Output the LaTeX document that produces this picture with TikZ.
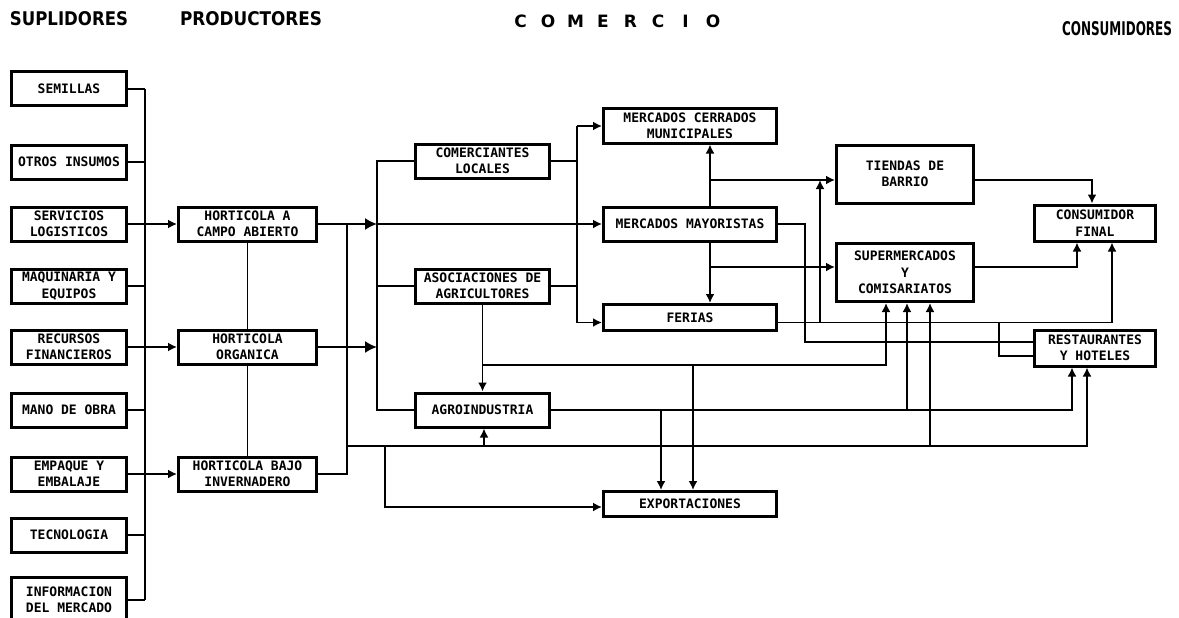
\documentclass[tikz,border=0pt]{standalone}
\usepackage{fontspec}
\usetikzlibrary{arrows.meta}
\newfontfamily\boxfont{DejaVu Sans Mono}
\newfontfamily\headfont{DejaVu Sans}

\begin{document}
\begin{tikzpicture}[x=1pt,y=-1pt,
  box/.style={draw, line width=3pt, inner sep=0pt, align=center,
    font=\boxfont\bfseries\fontsize{13}{16.5}\selectfont},
  supbox/.style={box, minimum width=115pt, minimum height=34pt},
  probox/.style={box, minimum width=138pt, minimum height=34pt},
  combox/.style={box, minimum width=134pt, minimum height=34pt},
  mktbox/.style={box, minimum width=173pt, minimum height=34pt},
  lowbox/.style={box, minimum width=173pt, minimum height=25pt},
  retbox/.style={box, minimum width=137pt, minimum height=58pt},
  conbox/.style={box, minimum width=121pt, minimum height=36pt},
  link/.style={line width=1.8pt},
  arr/.style={link, -{Latex[length=9pt,width=9pt]}},
  bigarr/.style={link, -{Latex[length=12pt,width=12pt]}},
  head/.style={inner sep=0pt, font=\headfont\bfseries}
]
\useasboundingbox (0,0) rectangle (1179,618);

% column headings
\node[head] (hsup) at (69,19) {\resizebox{118pt}{14pt}{SUPLIDORES}};
\node[head] (hpro) at (251,19) {\resizebox{142pt}{14pt}{PRODUCTORES}};
\foreach \ch [count=\i] in {C,O,M,E,R,C,I,O}
  \node[head, font=\headfont\bfseries\fontsize{17}{17}\selectfont] (hc\i) at (493+27.5*\i,21) {\ch};
\node[head] (hcon) at (1117,29) {\resizebox{110pt}{14pt}{CONSUMIDORES}};

% suppliers
\node[supbox] (sem) at (69,89)  {SEMILLAS};
\node[supbox] (otr) at (69,162) {OTROS INSUMOS};
\node[supbox] (ser) at (69,224) {SERVICIOS\\LOGISTICOS};
\node[supbox] (maq) at (69,286) {MAQUINARIA Y\\EQUIPOS};
\node[supbox] (rec) at (69,347) {RECURSOS\\FINANCIEROS};
\node[supbox] (man) at (69,410) {MANO DE OBRA};
\node[supbox] (emp) at (69,474) {EMPAQUE Y\\EMBALAJE};
\node[supbox] (tec) at (69,535) {TECNOLOGIA};
\node[supbox, minimum height=46pt] (inf) at (69,600) {INFORMACION\\DEL MERCADO};

% producers
\node[probox] (hA) at (247.5,224) {HORTICOLA A\\CAMPO ABIERTO};
\node[probox] (hO) at (247.5,347) {HORTICOLA\\ORGANICA};
\node[probox] (hB) at (247.5,474) {HORTICOLA BAJO\\INVERNADERO};

% first trade level
\node[combox] (com) at (482.5,161) {COMERCIANTES\\LOCALES};
\node[combox] (aso) at (482.5,286) {ASOCIACIONES DE\\AGRICULTORES};
\node[combox] (agr) at (482.5,410) {AGROINDUSTRIA};

% markets
\node[mktbox] (mcm) at (690,126) {MERCADOS CERRADOS\\MUNICIPALES};
\node[mktbox] (may) at (690,224) {MERCADOS MAYORISTAS};
\node[lowbox, minimum height=26pt] (fer) at (690,317.5) {FERIAS};
\node[lowbox] (exp) at (690,504) {EXPORTACIONES};

% retail
\node[retbox] (tie) at (905,174) {TIENDAS DE\\BARRIO};
\node[retbox] (sup) at (905,272.5) {SUPERMERCADOS\\Y\\COMISARIATOS};

% consumers
\node[conbox] (con) at (1095,223) {CONSUMIDOR\\FINAL};
\node[conbox] (res) at (1095,348) {RESTAURANTES\\Y HOTELES};

% junction points
\coordinate (sbus) at (145,89);
\coordinate (pbus) at (347,224);
\coordinate (cbus) at (377,0);
\coordinate (mbus) at (577,0);
\coordinate (low)  at (347,446);
\coordinate (m1) at (710,180);
\coordinate (m2) at (710,267);
\coordinate (j1) at (805,342);
\coordinate (ferL) at ([yshift=-5pt]fer.west);
\coordinate (ferR) at ([yshift=-5pt]fer.east);
\coordinate (expL) at ([yshift=-3pt]exp.west);
\coordinate (f1) at (820,322.5);
\coordinate (f2) at (999,322.5);
\coordinate (a1) at (482.5,365);
\coordinate (a2) at (693,365);
\coordinate (g1) at (661,410);
\coordinate (g2) at (907,410);
\coordinate (l1) at (484,446);
\coordinate (l2) at (930,446);
\coordinate (l3) at (385,446);

% suppliers to the bus
\draw[link] (sbus) -- (sbus |- inf.east);
\foreach \n in {sem,otr,maq,man,tec,inf}
  \draw[link] (\n.east) -- (\n.east -| sbus);
\draw[arr] (ser.east) -- (hA.west);
\draw[arr] (rec.east) -- (hO.west);
\draw[arr] (emp.east) -- (hB.west);

% producers
\draw[link] (hA.south) -- (hO.north);
\draw[link] (hO.south) -- (hB.north);
\draw[link] (hB.east) -| (pbus);
\draw[bigarr] (hA.east) -- (hA.east -| cbus);
\draw[arr] (hA.east -| cbus) -- (may.west);
\draw[bigarr] (hO.east) -- (hO.east -| cbus);

% first trade level bus
\draw[link] (com.west) -| (cbus |- agr.west) -- (agr.west);
\draw[link] (aso.west) -- (aso.west -| cbus);
\draw[link] (com.east) -- (com.east -| mbus);
\draw[link] (aso.east) -- (aso.east -| mbus);
\draw[link] (mbus |- mcm.west) -- (mbus |- ferL);
\draw[arr] (mbus |- mcm.west) -- (mcm.west);
\draw[arr] (mbus |- ferL) -- (ferL);

% wholesale markets
\draw[arr] (may.north -| m1) -- (mcm.south -| m1);
\draw[arr] (may.south -| m1) -- (fer.north -| m1);
\draw[arr] (m1) -- (m1 -| tie.west);
\draw[arr] (m2) -- (m2 -| sup.west);
\draw[link] (may.east) -| (j1) -- (j1 -| res.west);

% fairs
\draw[arr] (ferR) -| ([xshift=17pt]con.south);
\draw[arr] (f1) -- (f1 |- m1);
\draw[link] (f2) |- ([yshift=-8pt]res.west);

% retail to final consumer
\draw[arr] (tie.east |- m1) -| ([xshift=-3pt]con.north);
\draw[arr] (sup.east |- m2) -| ([xshift=-18pt]con.south);

% farmers' associations
\draw[arr] (aso.south) -- (agr.north);
\draw[arr] (a1) -| (sup.south -| 886,0);
\draw[arr] (a2) -- (a2 |- exp.north);

% agroindustry
\draw[arr] (agr.east) -| ([xshift=-23pt]res.south);
\draw[arr] (g1) -- (g1 |- exp.north);
\draw[arr] (g2) -- (g2 |- sup.south);

% direct line from producers
\draw[arr] (low) -| ([xshift=-8pt]res.south);
\draw[arr] (l1) -- (l1 |- agr.south);
\draw[arr] (l2) -- (l2 |- sup.south);
\draw[arr] (l3) |- (expL);
\end{tikzpicture}
\end{document}
